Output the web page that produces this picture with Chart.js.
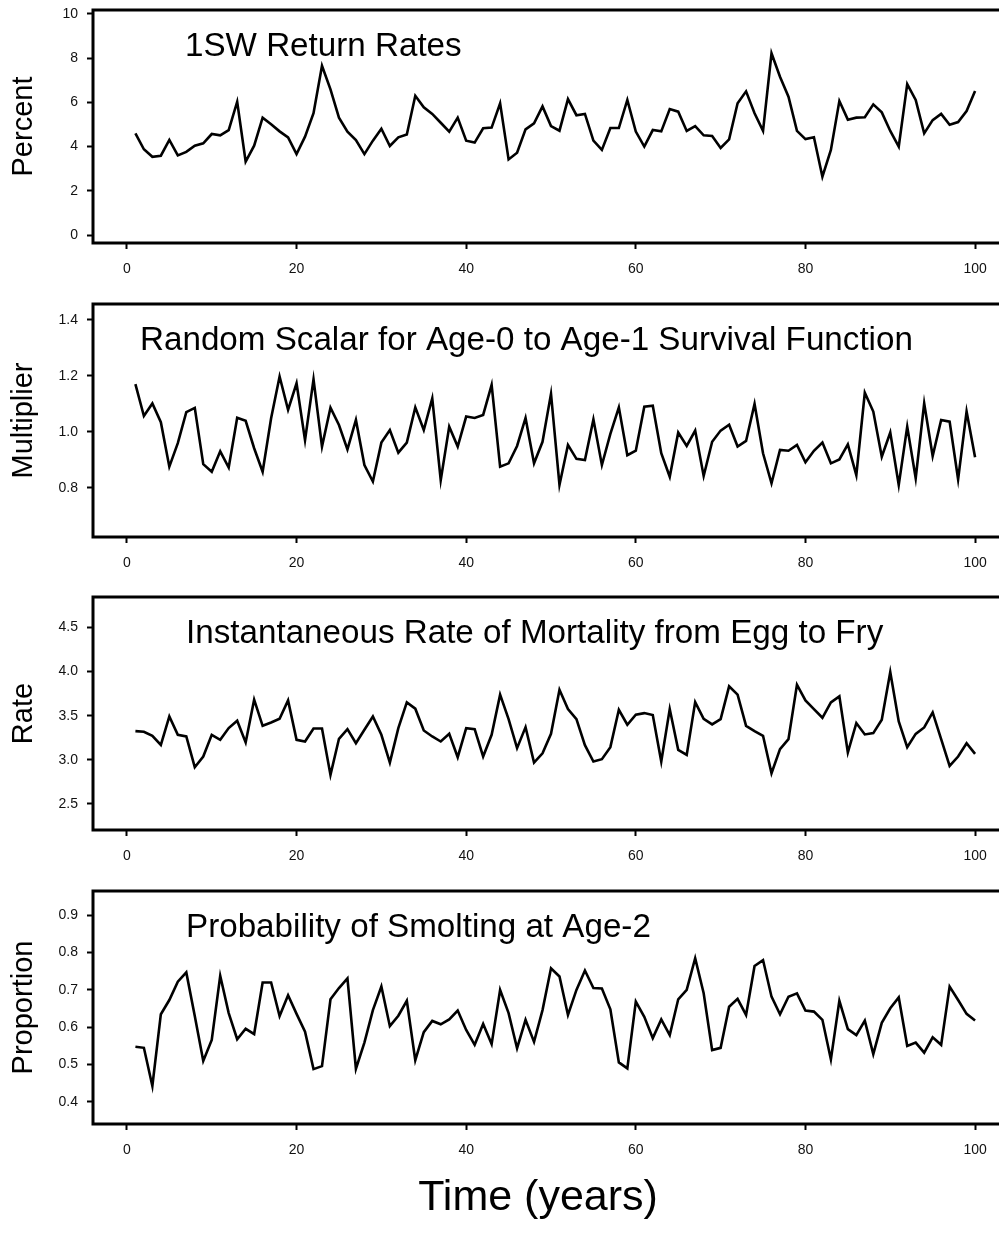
<!DOCTYPE html>
<html>
<head>
<meta charset="utf-8">
<script src="https://cdn.jsdelivr.net/npm/chart.js@4.4.1/dist/chart.umd.min.js"></script>
<style>
  html, body { margin: 0; padding: 0; background: #fff; overflow: hidden; }
  body { width: 999px; height: 1239px; position: relative; }
  canvas { position: absolute; left: 0; }
</style>
</head>
<body>
<canvas id="panel1" width="1009" height="290" style="top:0px"></canvas>
<canvas id="panel2" width="1009" height="290" style="top:294px"></canvas>
<canvas id="panel3" width="1009" height="290" style="top:587px"></canvas>
<canvas id="panel4" width="1009" height="358" style="top:881px"></canvas>
<script>
const FONT = '"Liberation Sans", Arial, Helvetica, sans-serif';

// years 1..100
const years = Array.from({ length: 100 }, (_, i) => i + 1);
const xTicks = [0, 20, 40, 60, 80, 100];

// 1SW return rates (percent)
const returnRates = [
  4.60, 3.88, 3.54, 3.59, 4.30, 3.60, 3.76, 4.04, 4.15, 4.57,
  4.51, 4.75, 6.03, 3.32, 4.04, 5.31, 5.01, 4.69, 4.42, 3.66,
  4.45, 5.51, 7.66, 6.59, 5.31, 4.68, 4.30, 3.66, 4.27, 4.81,
  4.03, 4.42, 4.55, 6.30, 5.78, 5.48, 5.08, 4.68, 5.31, 4.27,
  4.18, 4.83, 4.86, 5.96, 3.42, 3.72, 4.78, 5.05, 5.82, 4.93,
  4.72, 6.15, 5.42, 5.48, 4.27, 3.85, 4.84, 4.84, 6.11, 4.68,
  4.00, 4.75, 4.69, 5.70, 5.58, 4.71, 4.93, 4.51, 4.48, 3.94,
  4.33, 5.96, 6.50, 5.51, 4.71, 8.22, 7.16, 6.26, 4.71, 4.34,
  4.42, 2.64, 3.85, 6.06, 5.22, 5.31, 5.33, 5.91, 5.55, 4.71,
  4.00, 6.83, 6.11, 4.60, 5.20, 5.48, 4.99, 5.11, 5.61, 6.52
];
const returnTicks = [0, 2, 4, 6, 8, 10];

// random scalar, age-0 to age-1 survival
const survivalScalar = [
  1.171, 1.057, 1.102, 1.035, 0.876, 0.960, 1.071, 1.086, 0.885, 0.858,
  0.931, 0.873, 1.051, 1.040, 0.942, 0.858, 1.049, 1.198, 1.079, 1.174,
  0.971, 1.188, 0.948, 1.087, 1.025, 0.938, 1.043, 0.882, 0.823, 0.962,
  1.007, 0.926, 0.962, 1.088, 1.007, 1.120, 0.828, 1.019, 0.948, 1.055,
  1.050, 1.061, 1.168, 0.876, 0.888, 0.950, 1.050, 0.888, 0.965, 1.136,
  0.811, 0.954, 0.904, 0.900, 1.045, 0.882, 0.993, 1.088, 0.917, 0.933,
  1.090, 1.094, 0.924, 0.840, 0.998, 0.950, 1.005, 0.843, 0.965, 1.005,
  1.026, 0.948, 0.968, 1.100, 0.924, 0.817, 0.936, 0.933, 0.954, 0.892,
  0.933, 0.962, 0.888, 0.902, 0.956, 0.846, 1.140, 1.073, 0.912, 0.998,
  0.811, 1.019, 0.835, 1.102, 0.914, 1.043, 1.037, 0.831, 1.073, 0.910
];
const survivalTicks = [0.8, 1.0, 1.2, 1.4];

// instantaneous mortality, egg to fry
const mortalityRate = [
  3.326, 3.318, 3.273, 3.170, 3.492, 3.284, 3.265, 2.917, 3.038, 3.284,
  3.227, 3.360, 3.443, 3.197, 3.682, 3.386, 3.424, 3.466, 3.674, 3.227,
  3.208, 3.356, 3.356, 2.830, 3.239, 3.348, 3.189, 3.341, 3.492, 3.284,
  2.970, 3.360, 3.652, 3.580, 3.333, 3.265, 3.208, 3.295, 3.030, 3.360,
  3.348, 3.038, 3.284, 3.739, 3.462, 3.133, 3.371, 2.970, 3.074, 3.295,
  3.795, 3.576, 3.462, 3.167, 2.981, 3.008, 3.144, 3.568, 3.398, 3.511,
  3.530, 3.508, 2.981, 3.576, 3.114, 3.057, 3.655, 3.466, 3.402, 3.462,
  3.833, 3.739, 3.386, 3.326, 3.273, 2.848, 3.121, 3.235, 3.852, 3.674,
  3.576, 3.477, 3.652, 3.720, 3.083, 3.417, 3.288, 3.303, 3.455, 3.996,
  3.436, 3.144, 3.295, 3.367, 3.538, 3.235, 2.932, 3.038, 3.189, 3.068
];
const mortalityTicks = [2.5, 3.0, 3.5, 4.0, 4.5];

// probability of smolting at age 2
const smoltProb = [
  0.548, 0.545, 0.443, 0.635, 0.673, 0.722, 0.747, 0.630, 0.510, 0.566,
  0.738, 0.638, 0.568, 0.596, 0.582, 0.720, 0.720, 0.630, 0.686, 0.636,
  0.588, 0.488, 0.496, 0.675, 0.705, 0.731, 0.489, 0.559, 0.646, 0.709,
  0.603, 0.631, 0.671, 0.512, 0.587, 0.617, 0.608, 0.621, 0.645, 0.593,
  0.553, 0.609, 0.555, 0.700, 0.638, 0.544, 0.620, 0.561, 0.646, 0.758,
  0.736, 0.633, 0.700, 0.752, 0.705, 0.704, 0.648, 0.506, 0.490, 0.669,
  0.628, 0.571, 0.621, 0.579, 0.675, 0.700, 0.785, 0.691, 0.539, 0.545,
  0.655, 0.676, 0.633, 0.764, 0.780, 0.682, 0.635, 0.682, 0.691, 0.645,
  0.642, 0.620, 0.514, 0.671, 0.595, 0.579, 0.618, 0.528, 0.612, 0.651,
  0.680, 0.550, 0.559, 0.532, 0.573, 0.553, 0.709, 0.673, 0.636, 0.618
];
const smoltTicks = [0.4, 0.5, 0.6, 0.7, 0.8, 0.9];

// frame box + title written inside the plot area
const panelDecor = {
    id: 'panelDecor',
    afterDraw(chart, args, opts) {
        const { ctx, chartArea } = chart;
        ctx.save();
        ctx.strokeStyle = '#000';
        ctx.lineWidth = 3;
        ctx.strokeRect(chartArea.left, chartArea.top, chartArea.right - chartArea.left, chartArea.bottom - chartArea.top);

        ctx.fillStyle = '#000';
        ctx.textAlign = 'left';
        ctx.textBaseline = 'alphabetic';
        ctx.font = '33.2px ' + FONT;
        ctx.fillText(opts.title, chartArea.left + opts.titleX, chartArea.top + 46);

        if (opts.footer) {
            ctx.textAlign = 'center';
            ctx.font = '43px ' + FONT;
            ctx.fillText(opts.footer, opts.footerX, opts.footerY);
        }
        ctx.restore();
    }
};

function makePanel(canvasId, values, cfg) {
    const el = document.getElementById(canvasId);
    return new Chart(el, {
        type: 'line',
        data: {
            datasets: [{
                data: years.map((yr, i) => ({ x: yr, y: values[i] })),
                borderColor: '#000',
                borderWidth: 2.6,
                pointRadius: 0,
                tension: 0,
                fill: false
            }]
        },
        options: {
            responsive: false,
            animation: false,
            layout: { padding: { top: 10, left: 0, right: 0, bottom: 0 } },
            plugins: {
                legend: { display: false },
                tooltip: { enabled: false },
                panelDecor: { title: cfg.title, titleX: cfg.titleX, footer: cfg.footer, footerX: 538, footerY: 329 }
            },
            scales: {
                x: {
                    type: 'linear',
                    min: -4,
                    max: 104,
                    afterBuildTicks: s => { s.ticks = xTicks.map(v => ({ value: v })); },
                    afterFit: s => { s.height = cfg.xHeight; },
                    grid: { display: true, drawOnChartArea: false, drawTicks: true, tickLength: 6, tickWidth: 2, tickColor: '#000' },
                    border: { display: false },
                    ticks: {
                        autoSkip: false, maxRotation: 0, padding: 12, color: '#111',
                        font: { family: FONT, size: 14 },
                        callback: v => String(v)
                    }
                },
                y: {
                    min: cfg.yMin,
                    max: cfg.yMax,
                    afterBuildTicks: s => { s.ticks = cfg.yTicks.map(v => ({ value: v })); },
                    afterFit: s => { s.width = 93; s.paddingTop = 0; s.paddingBottom = 0; },
                    grid: { display: true, drawOnChartArea: false, drawTicks: true, tickLength: 6, tickWidth: 2, tickColor: '#000' },
                    border: { display: false },
                    ticks: {
                        padding: 9, color: '#111',
                        font: { family: FONT, size: 14 },
                        callback: v => Number(v).toFixed(cfg.decimals)
                    },
                    title: {
                        display: true, text: cfg.yTitle, color: '#000',
                        font: { family: FONT, size: 29 },
                        padding: { top: 7, bottom: 0 }
                    }
                }
            }
        },
        plugins: [panelDecor]
    });
}

makePanel('panel1', returnRates, {
    title: '1SW Return Rates', titleX: 92, yTitle: 'Percent',
    yMin: -0.36, yMax: 10.18, yTicks: returnTicks, decimals: 0, xHeight: 47
});
makePanel('panel2', survivalScalar, {
    title: 'Random Scalar for Age-0 to Age-1 Survival Function', titleX: 47, yTitle: 'Multiplier',
    yMin: 0.625, yMax: 1.457, yTicks: survivalTicks, decimals: 1, xHeight: 47
});
makePanel('panel3', mortalityRate, {
    title: 'Instantaneous Rate of Mortality from Egg to Fry', titleX: 93, yTitle: 'Rate',
    yMin: 2.205, yMax: 4.846, yTicks: mortalityTicks, decimals: 1, xHeight: 47
});
makePanel('panel4', smoltProb, {
    title: 'Probability of Smolting at Age-2', titleX: 93, yTitle: 'Proportion',
    yMin: 0.341, yMax: 0.965, yTicks: smoltTicks, decimals: 1, xHeight: 115,
    footer: 'Time (years)'
});
</script>
</body>
</html>
